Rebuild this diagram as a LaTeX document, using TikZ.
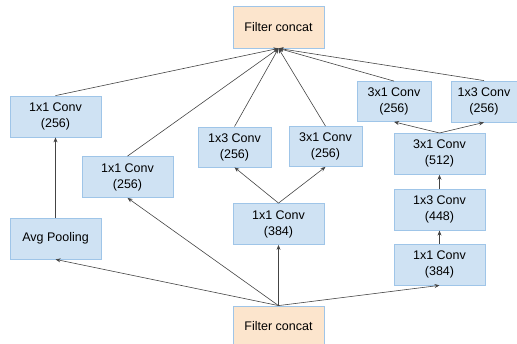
\documentclass[tikz,border=0pt]{standalone}
\usepackage{fontspec}
\setmainfont{Liberation Sans}
\usepackage{tikz}
\usetikzlibrary{arrows.meta,positioning}
\definecolor{convfill}{HTML}{CFE2F3}
\definecolor{convline}{HTML}{9FC5E8}
\definecolor{catfill}{HTML}{FCE5CD}
\definecolor{arrline}{HTML}{444444}

\begin{document}
\begin{tikzpicture}[
  x=1pt, y=-1pt,
  conv/.style={
    draw=convline, line width=0.8pt, fill=convfill,
    minimum width=91pt, minimum height=41pt, inner sep=0pt,
    font=\fontsize{12.5}{16}\selectfont, align=center
  },
  small/.style={conv, minimum width=73pt, minimum height=40pt},
  concat/.style={conv, fill=catfill, minimum height=42pt},
  arr/.style={-{Stealth[length=5pt,width=4pt]}, draw=arrline, line width=0.6pt},
]
\useasboundingbox (0,0) rectangle (517,344);

\node[concat] (tc) at (278.5,27) {Filter concat};
\node[concat, minimum height=40pt] (bc) at (278.5,326) {Filter concat};

\node[conv] (pool) at (55.5,238.5) {Avg Pooling};
\node[conv] (c1) at (55.5,116.5) {1x1 Conv\\(256)};
\node[conv] (c2) at (127.5,177) {1x1 Conv\\(256)};
\node[conv] (c3) at (278.5,224) {1x1 Conv\\(384)};
\node[small] (c3a) at (234.5,147) {1x3 Conv\\(256)};
\node[small] (c3b) at (325.5,146.5) {3x1 Conv\\(256)};
\node[conv] (c4) at (439.5,264.5) {1x1 Conv\\(384)};
\node[conv,above=13pt of c4] (c4a) {1x3 Conv\\(448)};
\node[conv,above=14pt of c4a] (c4b) {3x1 Conv\\(512)};
\node[small,minimum width=74pt] (c4l) at (394,101.5) {3x1 Conv\\(256)};
\node[small,minimum width=66pt,minimum height=41pt] (c4r) at (484,101.5) {1x3 Conv\\(256)};

\draw[arr] (bc.north) -- (pool.south);
\draw[arr] (bc.north) -- (c2.south);
\draw[arr] (bc.north) -- (c3.south);
\draw[arr] (bc.north) -- (c4.south);
\draw[arr] (pool) -- (c1);
\draw[arr] (c3.north) -- (c3a.south);
\draw[arr] (c3.north) -- (c3b.south);
\draw[arr] (c4) -- (c4a);
\draw[arr] (c4a) -- (c4b);
\draw[arr] (c4b.north) -- (c4l.south);
\draw[arr] (c4b.north) -- (c4r.south);
\foreach \n in {c1,c2,c3a,c3b,c4l,c4r}
  \draw[arr] (\n.north) -- (tc.south);
\end{tikzpicture}
\end{document}
